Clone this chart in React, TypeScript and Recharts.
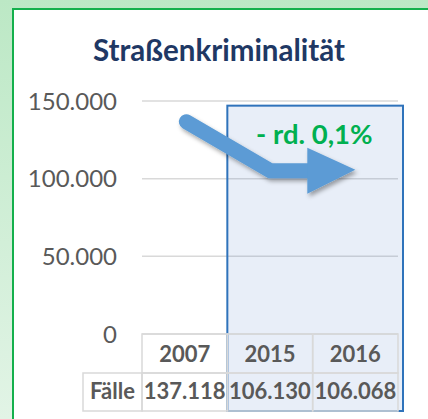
import React from 'react';
import { ComposedChart, Bar, XAxis, YAxis, CartesianGrid, ReferenceArea, Customized } from 'recharts';

const years = ['2007', '2015', '2016'];
const cases = [137118, 106130, 106068];
const yTicks = [0, 50000, 100000, 150000];
const rowLabel = 'Fälle';
const title = 'Straßenkriminalität';
const changeLabel = '- rd. 0,1%';
const highlightFrom = '2015';
const highlightTo = '2016';

const data = years.map((y, i) => ({ year: y, value: cases[i] }));

const W = 428;
const H = 419;
const margin = { top: 101, right: 30, bottom: 0, left: 0 };
const Y_AXIS_W = 142;
const X_AXIS_H = 85;
const cellW = (W - margin.left - margin.right - Y_AXIS_W) / years.length;
const headH = 39;
const rowH = 38;
const labelW = 59;

const fmt = (v: number) => v.toLocaleString('de-DE');
const font = 'Lato, "Open Sans", sans-serif';
const grey = '#595959';
const border = '#d9d9d9';

const TableTick = (props: any) => {
  const { x, y, payload, index } = props;
  const left = x - cellW / 2;
  return (
    <g>
      <rect x={left} y={y} width={cellW} height={headH} fill="none" stroke={border} strokeWidth={1.5} />
      <rect x={left} y={y + headH} width={cellW} height={rowH} fill="none" stroke={border} strokeWidth={1.5} />
      <text x={x} y={y + 28} textAnchor="middle" fontFamily={font} fontWeight="bold" fontSize={22} fill={grey}>
        {payload.value}
      </text>
      <text x={x} y={y + headH + 26} textAnchor="middle" fontFamily={font} fontWeight="bold" fontSize={22} fill={grey}>
        {fmt(cases[index])}
      </text>
      {index === 0 && (
        <g>
          <rect x={left - labelW} y={y + headH} width={labelW} height={rowH} fill="none" stroke={border} strokeWidth={1.5} />
          <text x={left - labelW / 2} y={y + headH + 26} textAnchor="middle" fontFamily={font} fontWeight="bold" fontSize={22} fill={grey}>
            {rowLabel}
          </text>
        </g>
      )}
    </g>
  );
};

const HighlightShape = (props: any) => {
  const { x, y, width, height } = props;
  const ax = x - 41;
  const ay = y + 16;
  return (
    <g>
      <defs>
        <filter id="arrowShadow" x="-20%" y="-20%" width="140%" height="160%">
          <feDropShadow dx="2" dy="3" stdDeviation="2" floodColor="#000" floodOpacity="0.35" />
        </filter>
      </defs>
      <rect x={x} y={y} width={width + 5} height={height + headH + rowH} fill="#4472c4" fillOpacity={0.12} stroke="#2f73bb" strokeWidth={2} />
      <text x={x + 87} y={y + 38} textAnchor="middle" fontFamily={font} fontWeight="bold" fontSize={27.5} fill="#00b050">
        {changeLabel}
      </text>
      <g filter="url(#arrowShadow)">
        <path
          d={`M${ax},${ay} L${ax + 84},${ay + 49} L${ax + 126},${ay + 49}`}
          fill="none"
          stroke="#5b9bd5"
          strokeWidth={15}
          strokeLinecap="round"
          strokeLinejoin="miter"
        />
        <polygon
          points={`${ax + 121},${ay + 26} ${ax + 169},${ay + 48} ${ax + 121},${ay + 72}`}
          fill="#5b9bd5"
        />
      </g>
    </g>
  );
};

const Title = () => (
  <text x={219} y={61} textAnchor="middle" fontFamily={font} fontWeight="bold" fontSize={29.5} fill="#1f3864">
    {title}
  </text>
);

export default function App() {
  return (
    <div style={{ position: 'absolute', left: 0, top: 0, width: W, height: H, overflow: 'hidden', background: 'linear-gradient(to bottom, #bce8c5, #e2f4e6)' }}>
      <div
        style={{
          position: 'absolute',
          left: 12,
          top: 8,
          width: 414,
          height: 430,
          background: '#fff',
          borderLeft: '2px solid #14b04c',
          borderTop: '2px solid #14b04c',
          borderRight: '1px solid #14b04c',
        }}
      />
      <div style={{ position: 'absolute', left: 0, top: 0 }}>
        <ComposedChart width={W} height={H} data={data} margin={margin}>
          <CartesianGrid vertical={false} stroke={border} strokeWidth={1.5} />
          <XAxis
            dataKey="year"
            height={X_AXIS_H}
            axisLine={false}
            tickLine={false}
            tickSize={0}
            tickMargin={0}
            interval={0}
            tick={<TableTick />}
          />
          <YAxis
            width={Y_AXIS_W}
            domain={[0, 150000]}
            ticks={yTicks}
            tickFormatter={fmt}
            axisLine={false}
            tickLine={false}
            tickMargin={19}
            tick={{ fill: grey, fontFamily: font, fontSize: 24 }}
          />
          <Bar dataKey="value" fill="#4472c4" fillOpacity={0} isAnimationActive={false} />
          <ReferenceArea x1={highlightFrom} x2={highlightTo} y1={0} y2={147000} shape={<HighlightShape />} />
          <Customized component={<Title />} />
        </ComposedChart>
      </div>
    </div>
  );
}
